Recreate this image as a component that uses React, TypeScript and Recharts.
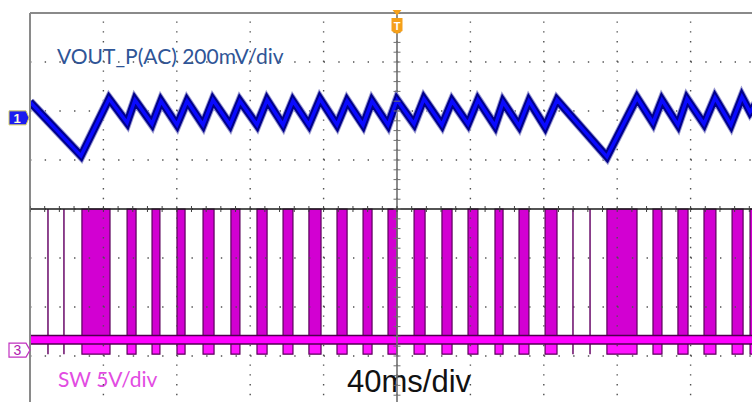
import React from 'react';
import { ComposedChart, Line, Area, XAxis, YAxis, ReferenceDot, Scatter } from 'recharts';

// ---- scope settings ----
const TIME_PER_DIV = 40; // ms/div
const VOUT_PER_DIV = 200; // mV/div
const SW_PER_DIV = 5; // V/div
const DIVS_X = 10;
const DIVS_Y = 8;
const CH1_POS_DIV = 5.86; // channel 1 ground marker, divisions above bottom
const CH3_POS_DIV = 1.12; // channel 3 ground marker, divisions above bottom

// ---- VOUT (AC) vertices: time in ms, value in mV ----
const VOUT_T = [
  0, 27.8, 43.1, 52.9, 57.2, 66.5, 71.4, 80.1, 85.6, 94.3, 99.7, 109.0, 114.4, 123.7, 129.2, 137.9,
  143.3, 152.0, 158.0, 167.3, 172.8, 181.5, 186.4, 195.1, 200.0, 209.3, 214.7, 224.5, 230.0, 238.7,
  244.1, 253.4, 257.8, 266.5, 271.9, 280.7, 287.2, 314.4, 330.8, 339.5, 344.4, 353.1, 358.0, 367.3,
  373.3, 382.0, 388.0, 392.4, 397.8,
];
const VOUT_MV = [
  65, -155, 78, -20, 73, -25, 69, -29, 69, -29, 73, -29, 69, -29, 73, -29,
  69, -29, 78, -29, 69, -29, 69, -29, 73, -25, 78, -29, 69, -25,
  73, -33, 65, -33, 69, -37, 73, -159, 82, -20, 73, -29, 78, -25,
  82, -29, 86, 24, 82,
];

// ---- SW switching bursts: start / end in ms ----
const SW_PULSE_START = [
  28.3, 52.9, 66.5, 80.1, 94.3, 109.5, 123.7, 137.9, 152.0, 167.3, 181.5, 195.1, 209.3, 224.5,
  238.7, 253.4, 266.5, 280.7, 314.4, 339.5, 353.1, 367.3, 382.6, 392.4,
];
const SW_PULSE_END = [
  43.6, 57.8, 70.8, 84.5, 100.3, 114.4, 129.2, 143.3, 158.6, 172.8, 186.4, 200.0, 215.3, 230.0,
  244.1, 257.8, 271.9, 287.2, 330.8, 344.4, 358.6, 373.8, 388.6, 397.8,
];
const SW_SPIKE_T = [9.8, 18.5, 295.9, 305.2];
const SW_HIGH = 14.4; // V
const SW_LOW = 1.07; // V
const SW_UNDER = -0.41; // V

// ---- derived tables ----
const T_MAX = TIME_PER_DIV * DIVS_X;
const VOUT_DOMAIN = [-CH1_POS_DIV * VOUT_PER_DIV, (DIVS_Y - CH1_POS_DIV) * VOUT_PER_DIV];
const SW_DOMAIN = [-CH3_POS_DIV * SW_PER_DIV, (DIVS_Y - CH3_POS_DIV) * SW_PER_DIV];

const voutData = VOUT_T.map((t, i) => ({ t, v: VOUT_MV[i] }));

const swData: { t: number; sw: number; un: number }[] = [{ t: 0, sw: SW_LOW, un: SW_LOW }];
SW_PULSE_START.forEach((s, i) => {
  swData.push({ t: s, sw: SW_HIGH, un: SW_UNDER });
  swData.push({ t: SW_PULSE_END[i], sw: SW_LOW, un: SW_LOW });
});
swData.push({ t: T_MAX, sw: SW_LOW, un: SW_LOW });

const lowData = [{ t: 0, lo: SW_LOW }, { t: T_MAX, lo: SW_LOW }];

const spikeData: { t: number; sp: number | null }[] = [];
SW_SPIKE_T.forEach((t) => {
  spikeData.push({ t, sp: SW_HIGH });
  spikeData.push({ t, sp: SW_UNDER });
  spikeData.push({ t, sp: null });
});

const minorX = Array.from({ length: DIVS_X * 5 + 1 }, (_, k) => (k * TIME_PER_DIV) / 5);
const minorY = Array.from({ length: DIVS_Y * 5 + 1 }, (_, k) => +(k / 5).toFixed(2));
const gridX = Array.from({ length: DIVS_X - 1 }, (_, k) => (k + 1) * TIME_PER_DIV);
const gridY = Array.from({ length: DIVS_Y - 1 }, (_, k) => k + 1);
const gridVLines = gridX.map((t) => [{ t, d: 0 }, { t, d: DIVS_Y }]);
const gridHLines = gridY.map((d) => [{ t: 0, d }, { t: T_MAX, d }]);

const centerVData = [{ t: T_MAX / 2, d: 0 }, { t: T_MAX / 2, d: DIVS_Y }];
const centerHData = [{ t: 0, d: DIVS_Y / 2 }, { t: T_MAX, d: DIVS_Y / 2 }];
const centerVTicks = minorY.map((d) => ({ t: T_MAX / 2, d }));
const centerHTicks = minorX.map((t) => ({ t, d: DIVS_Y / 2 }));

const HTick = (p: any) => (
  <line x1={p.cx - 3.5} x2={p.cx + 3.5} y1={p.cy} y2={p.cy} stroke="#707070" strokeWidth={1} />
);
const VTick = (p: any) => (
  <line x1={p.cx} x2={p.cx} y1={p.cy - 3} y2={p.cy + 3} stroke="#404040" strokeWidth={1} />
);

const Ch1Marker = (p: any) => (
  <g>
    <path
      d={`M ${p.cx - 21} ${p.cy - 7} L ${p.cx - 4} ${p.cy - 7} L ${p.cx - 1} ${p.cy} L ${p.cx - 4} ${p.cy + 7} L ${p.cx - 21} ${p.cy + 7} Z`}
      fill="#1c1cf0"
      stroke="#d8d060"
      strokeWidth={1}
    />
    <text x={p.cx - 13} y={p.cy + 5} fontFamily="Liberation Sans, Arial" fontSize={13} fill="#fffbe0" textAnchor="middle" fontWeight="bold">
      1
    </text>
  </g>
);
const Ch3Marker = (p: any) => (
  <g>
    <path
      d={`M ${p.cx - 21} ${p.cy - 7} L ${p.cx - 4} ${p.cy - 7} L ${p.cx} ${p.cy} L ${p.cx - 4} ${p.cy + 7} L ${p.cx - 21} ${p.cy + 7} Z`}
      fill="#ffffff"
      stroke="#c030c0"
      strokeWidth={1.2}
    />
    <text x={p.cx - 12.5} y={p.cy + 5} fontFamily="Liberation Sans, Arial" fontSize={14} fill="#b020b0" textAnchor="middle">
      3
    </text>
  </g>
);
const TrigMarker = (p: any) => (
  <g>
    <path d={`M ${p.cx - 4.5} ${p.cy - 3} L ${p.cx + 4.5} ${p.cy - 3} L ${p.cx} ${p.cy + 2.5} Z`} fill="#f5a01a" />
    <path
      d={`M ${p.cx - 5.5} ${p.cy + 5} L ${p.cx + 5.5} ${p.cy + 5} L ${p.cx + 5.5} ${p.cy + 18} L ${p.cx} ${p.cy + 21} L ${p.cx - 5.5} ${p.cy + 18} Z`}
      fill="#f5a01a"
    />
    <text x={p.cx} y={p.cy + 16.5} fontFamily="Liberation Sans, Arial" fontSize={11} fontWeight="bold" fill="#ffffff" textAnchor="middle">
      T
    </text>
  </g>
);

const lineCommon = { xAxisId: 't', dot: false, activeDot: false, isAnimationActive: false } as const;

export default function App() {
  return (
    <div style={{ position: 'fixed', left: 0, top: 0, width: 752, height: 402, overflow: 'hidden', background: '#ffffff' }}>
      <svg style={{ position: 'absolute', left: 0, top: 0 }} width={752} height={402}>
        <text x={57} y={64} fontFamily="Lato" fontSize={21} fill="#2f5597">
          VOUT_P(AC) 200mV/div
        </text>
        <text x={58} y={387} fontFamily="Lato" fontSize={21} fill="#e24ce2">
          SW 5V/div
        </text>
        <text x={347} y={392} fontFamily="Liberation Sans, Arial" fontSize={31} fill="#111111">
          40ms/div
        </text>
      </svg>
      <div style={{ position: 'absolute', left: 0, top: 0 }}>
        <ComposedChart width={780} height={420} margin={{ top: 13, right: 16, bottom: 15, left: 30 }}>
          <XAxis
            xAxisId="t"
            dataKey="t"
            type="number"
            domain={[0, T_MAX]}
            allowDataOverflow
            ticks={minorX}
            orientation="top"
            mirror
            tick={false}
            tickSize={4}
            tickLine={{ stroke: '#8a8a8a' }}
            axisLine={{ stroke: '#8a8a8a', strokeWidth: 2 }}
          />
          <YAxis
            yAxisId="div"
            type="number"
            domain={[0, DIVS_Y]}
            allowDataOverflow
            ticks={minorY}
            orientation="left"
            mirror
            tick={false}
            tickSize={4}
            tickLine={{ stroke: '#8a8a8a' }}
            axisLine={{ stroke: '#8a8a8a', strokeWidth: 2 }}
          />
          <YAxis yAxisId="v" type="number" domain={VOUT_DOMAIN} allowDataOverflow hide />
          <YAxis yAxisId="sw" type="number" domain={SW_DOMAIN} allowDataOverflow hide />

          {/* dotted graticule */}
          {gridVLines.map((data, i) => (
            <Line key={`gv${i}`} {...lineCommon} yAxisId="div" data={data} dataKey="d" stroke="#505050" strokeWidth={1.4} strokeDasharray="1.4 8.4" />
          ))}
          {gridHLines.map((data, i) => (
            <Line key={`gh${i}`} {...lineCommon} yAxisId="div" data={data} dataKey="d" stroke="#505050" strokeWidth={1.4} strokeDasharray="1.4 13.28" />
          ))}

          {/* SW channel */}
          <Area
            xAxisId="t"
            yAxisId="sw"
            data={swData}
            dataKey="sw"
            type="stepAfter"
            baseValue={SW_LOW}
            fill="#d200d2"
            fillOpacity={1}
            stroke="#5c005c"
            strokeWidth={1.2}
            isAnimationActive={false}
            dot={false}
            activeDot={false}
          />
          <Area
            xAxisId="t"
            yAxisId="sw"
            data={swData}
            dataKey="un"
            type="stepAfter"
            baseValue={SW_LOW}
            fill="#ff14ff"
            fillOpacity={1}
            stroke="#5c005c"
            strokeWidth={1.2}
            isAnimationActive={false}
            dot={false}
            activeDot={false}
          />
          <Line {...lineCommon} yAxisId="sw" data={spikeData} dataKey="sp" stroke="#6a0a6a" strokeWidth={1.5} connectNulls={false} />
          <Line {...lineCommon} yAxisId="sw" data={lowData} dataKey="lo" stroke="#4e004e" strokeWidth={10} />
          <Line {...lineCommon} yAxisId="sw" data={lowData} dataKey="lo" stroke="#ff00ff" strokeWidth={7} />

          {/* center axes */}
          <Line {...lineCommon} yAxisId="div" data={centerVData} dataKey="d" stroke="#707070" strokeWidth={1.6} />
          <Line {...lineCommon} yAxisId="div" data={centerHData} dataKey="d" stroke="#1a1a1a" strokeWidth={1.3} />
          <Scatter xAxisId="t" yAxisId="div" data={centerVTicks} dataKey="d" shape={HTick} isAnimationActive={false} />
          <Scatter xAxisId="t" yAxisId="div" data={centerHTicks} dataKey="d" shape={VTick} isAnimationActive={false} />

          {/* VOUT channel */}
          <Line {...lineCommon} yAxisId="v" data={voutData} dataKey="v" stroke="#9a9ad2" strokeWidth={9.5} />
          <Line {...lineCommon} yAxisId="v" data={voutData} dataKey="v" stroke="#00008a" strokeWidth={7.5} />
          <Line {...lineCommon} yAxisId="v" data={voutData} dataKey="v" stroke="#0a0aff" strokeWidth={3.4} />

          {/* markers */}
          <ReferenceDot xAxisId="t" yAxisId="v" x={0} y={0} ifOverflow="visible" shape={Ch1Marker} />
          <ReferenceDot xAxisId="t" yAxisId="sw" x={0} y={0} ifOverflow="visible" shape={Ch3Marker} />
          <ReferenceDot xAxisId="t" yAxisId="div" x={T_MAX / 2} y={DIVS_Y} ifOverflow="visible" shape={TrigMarker} />
        </ComposedChart>
      </div>
    </div>
  );
}
